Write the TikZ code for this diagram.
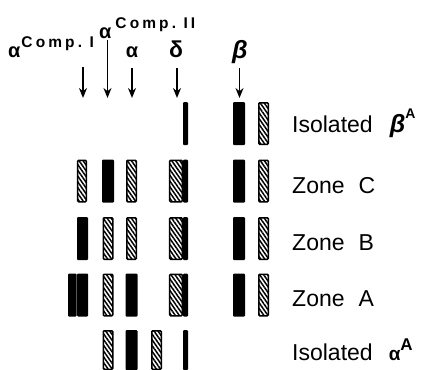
\documentclass[tikz,border=0pt]{standalone}
\usepackage{fontspec}
\setmainfont{Liberation Sans}
\newfontfamily\compfont[LetterSpace=20]{Liberation Sans}
\usetikzlibrary{arrows.meta,patterns.meta}
\usetikzlibrary{positioning}
\tikzset{
    solidband/.style = {fill=black, rounded corners=1pt, inner sep=0pt,
                 minimum width=12pt, minimum height=43pt},
    hatchband/.style = {draw=black, line width=1.5pt, rounded corners=1pt, inner sep=0pt,
                 pattern={Lines[angle=-55,distance=3.3pt,line width=1.5pt]},
                 minimum width=9.5pt, minimum height=41.5pt},
    wideband/.style = {hatchband, minimum width=12.6pt},
    thinband/.style = {solidband, minimum width=5pt},
    lbl/.style = {anchor=base west, inner sep=0pt, font=\fontsize{23}{26}\selectfont},
    toplbl/.style = {anchor=base, inner sep=0pt},
}
\newcommand\galpha{{\fontsize{20}{20}\selectfont\bfseries α}}
\newcommand\comptext{\compfont\bfseries\fontsize{15.5}{15.5}\selectfont}

\begin{document}
\begin{tikzpicture}[x=1pt,y=-1pt,>={Stealth[length=10pt,width=8pt]}]
\useasboundingbox (0,0) rectangle (429,370);
% labels on top
\node (lCI) [anchor=base west, inner sep=0pt] at (8,57) {\galpha\hspace{1pt}\raisebox{10pt}{\comptext Comp.\ I}};
\node (lCII) [anchor=base west, inner sep=0pt] at (99,38) {\galpha\hspace{4pt}\raisebox{10pt}{\comptext Comp.\ II}};
\node (lA) [toplbl] at (132,57) {\galpha};
\node (lD) [toplbl] at (176,57) {\fontsize{23}{23}\selectfont\bfseries δ};
\node (lB) [toplbl] at (240,58) {\fontsize{25}{25}\selectfont\bfseries\itshape β};
\coordinate (tI) at (83,67);    \coordinate (hI) at (83,98);
\coordinate (tII) at (107.5,40); \coordinate (hII) at (107.5,98);
\coordinate (tA) at (132,68);   \coordinate (hA) at (132,98);
\coordinate (tD) at (177,68);   \coordinate (hD) at (177,98);
\coordinate (tB) at (239.5,68); \coordinate (hB) at (239.5,98);
\foreach \a in {I,II,A,D,B}
  \draw[->, line width=1.6pt] (t\a) -- (h\a);

% isolated beta
\node (ib-dt) [thinband] at (185.5,123.5) {};
\node (ib-b)  [solidband] at (239,123.5) {};
\node (ib-r)  [hatchband] at (263.5,123.5) {};
\node (ib) [lbl] at (292,132) {Isolated\hspace{17pt}{\fontsize{25}{25}\selectfont\bfseries\itshape β}\raisebox{14pt}{\fontsize{14}{14}\selectfont\bfseries A}};

% zones
\foreach \r/\y in {c/181,b/238.5,a/295} {
  \node (\r-dw) [wideband] at (176,\y) {};
  \node (\r-dt) [thinband] at (185.5,\y) {};
  \node (\r-b)  [solidband] at (239,\y) {};
  \node (\r-r)  [hatchband] at (263.5,\y) {};
}
\node (c-cI)  [hatchband, minimum width=8.6pt] at (82,181) {};
\node (c-cII) [solidband] at (108,181) {};
\node (c-cA)  [hatchband] at (131.5,181) {};
\node (zc) [lbl] at (292,193) {Zone\hspace{14pt}C};

\node (b-cI)  [solidband, minimum width=11pt] at (82.5,238.5) {};
\node (b-cII) [hatchband] at (108,238.5) {};
\node (b-cA)  [hatchband] at (131.5,238.5) {};
\node (zb) [lbl] at (292,250) {Zone\hspace{14pt}B};

\node (a-cI0) [solidband, minimum width=8.6pt] at (72.3,295) {};
\node (a-cI)  [solidband, minimum width=11pt] at (82.7,295) {};
\node (a-cII) [hatchband] at (108,295) {};
\node (a-cA)  [solidband] at (131.5,295) {};
\node (za) [lbl] at (292,306) {Zone\hspace{14pt}A};

% isolated alpha
\node (ia-cII) [hatchband, minimum height=38.5pt] at (108,350) {};
\node (ia-cA)  [solidband, minimum height=40pt] at (131.5,350) {};
\node (ia-cA2) [hatchband, minimum height=38.5pt] at (156.5,350) {};
\node (ia-dt)  [thinband, minimum height=40pt] at (185.5,350) {};
\node (ia) [lbl] at (292,360) {Isolated\hspace{16pt}{\fontsize{19}{19}\selectfont\bfseries α}\raisebox{10pt}{\fontsize{17}{17}\selectfont\bfseries A}};
\end{tikzpicture}
\end{document}
